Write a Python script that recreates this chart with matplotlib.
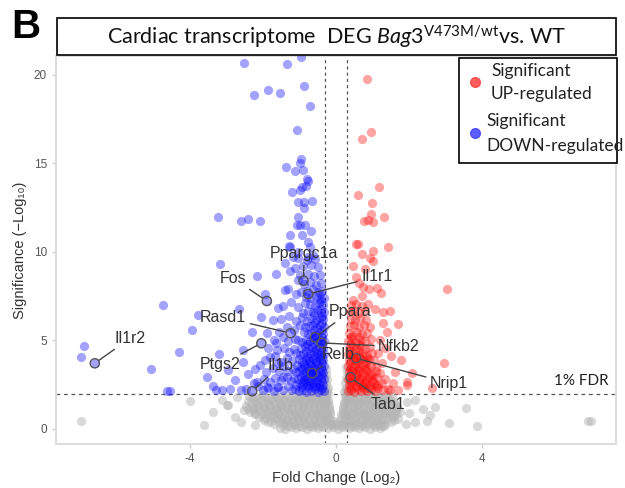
import matplotlib
matplotlib.use("Agg")
import matplotlib.pyplot as plt
from matplotlib.patches import Rectangle

plt.rcParams['font.family'] = ['Liberation Sans', 'DejaVu Sans']
plt.rcParams['mathtext.fontset'] = 'custom'
plt.rcParams['mathtext.rm'] = 'Lato'
plt.rcParams['mathtext.it'] = 'Lato:italic'

# log2 fold change / -log10 p for each gene group
down_pts = [
    # sparse, high significance
    (-2.52, 20.7), (-1.35, 20.6), (-0.96, 21.0), (-2.23, 18.85), (-1.85, 19.17), (-1.52, 19.0),
    (-0.87, 19.4), (-0.70, 18.27), (-1.07, 16.9), (-0.96, 15.25), (-1.37, 14.8), (-1.13, 14.6),
    (-0.89, 14.63), (-0.98, 15.0), (-0.80, 14.1), (-0.76, 14.0), (-0.94, 13.65), (-0.82, 13.7),
    (-1.19, 13.37), (-0.98, 13.5), (-1.05, 12.85), (-0.87, 12.8), (-0.66, 12.9), (-0.87, 12.5),
    (-3.23, 11.96), (-2.60, 11.77), (-2.40, 11.88), (-2.07, 11.77), (-1.05, 12.0), (-1.06, 11.5),
    (-0.97, 11.55), (-0.85, 11.5), (-1.27, 10.96), (-0.94, 10.96), (-0.67, 11.2), (-1.27, 10.3),
    (-0.71, 10.3), (-0.76, 10.58), (-1.05, 9.98), (-0.76, 9.73), (-0.62, 9.83), (-1.28, 10.36),
    # far left and mid-left
    (-6.88, 4.67), (-6.98, 4.05), (-6.59, 3.71), (-5.06, 3.37), (-4.74, 6.99), (-4.29, 4.33),
    (-3.94, 5.61), (-3.77, 6.42), (-4.63, 2.15), (-4.54, 2.15), (-3.53, 2.95), (-3.28, 2.2),
    (-3.20, 4.22), (-3.17, 9.32), (-2.64, 6.78), (-2.53, 4.46), (-2.53, 3.79), (-2.17, 8.66),
    (-1.64, 8.74), (-2.40, 3.09), (-2.16, 2.67), (-2.89, 2.24), (-3.12, 2.2), (-3.35, 2.43),
    (-2.08, 3.63), (-1.89, 5.41), (-1.73, 6.16), (-1.58, 6.85), (-1.39, 7.85), (-1.63, 4.84),
    (-1.80, 4.08), (-1.58, 3.71), (-1.44, 2.95), (-1.89, 2.39), (-1.62, 2.39), (-2.75, 2.75),
    (-2.95, 3.35), (-2.3, 5.5), (-2.05, 6.3), (-1.95, 7.6), (-1.89, 7.23), (-2.04, 4.84),
    (-2.29, 2.13), (-1.24, 5.41),
    # shoulder
    (-1.2, 2.18), (-1.32, 2.4), (-1.45, 2.2), (-1.58, 2.35), (-1.7, 2.15), (-1.85, 2.3),
    (-2.0, 2.2), (-2.12, 2.42), (-2.45, 2.25), (-2.6, 2.18), (-1.22, 2.7), (-1.35, 2.95),
    (-1.5, 2.75), (-1.66, 2.9), (-1.8, 2.65), (-1.98, 2.85), (-2.25, 2.6), (-1.18, 3.4),
    (-1.3, 3.25), (-1.42, 3.55), (-1.56, 3.3), (-1.72, 3.45), (-1.9, 3.2), (-2.2, 3.4),
    (-1.2, 3.85), (-1.35, 4.0), (-1.5, 3.8), (-1.68, 4.1), (-1.95, 3.9), (-1.15, 4.5),
    (-1.28, 4.35), (-1.42, 4.6), (-1.6, 4.45), (-1.85, 4.6), (-1.12, 5.1), (-1.3, 4.95),
    (-1.45, 5.2), (-1.7, 5.05), (-1.15, 5.6), (-1.35, 5.75), (-1.55, 5.5), (-1.1, 6.1),
    (-1.28, 6.4), (-1.5, 6.2), (-1.05, 6.9), (-1.22, 7.2), (-1.45, 6.95), (-1.1, 7.6),
    (-1.3, 7.9), (-1.05, 8.4), (-1.25, 8.9), (-1.18, 9.7), (-1.4, 9.4),
    # dense core
    (-0.34, 2.12), (-0.42, 2.2), (-0.5, 2.1), (-0.58, 2.25), (-0.67, 2.14), (-0.75, 2.3),
    (-0.83, 2.1), (-0.92, 2.22), (-1.01, 2.15), (-1.12, 2.28), (-0.36, 2.48), (-0.46, 2.55),
    (-0.55, 2.45), (-0.63, 2.6), (-0.72, 2.5), (-0.8, 2.58), (-0.9, 2.47), (-0.99, 2.62),
    (-1.08, 2.5), (-0.33, 2.82), (-0.41, 2.9), (-0.52, 2.78), (-0.6, 2.93), (-0.69, 2.8),
    (-0.78, 2.88), (-0.87, 2.76), (-0.96, 2.92), (-1.05, 2.84), (-1.15, 2.9), (-0.35, 3.18),
    (-0.44, 3.25), (-0.54, 3.12), (-0.62, 3.3), (-0.71, 3.15), (-0.81, 3.22), (-0.9, 3.1),
    (-1.0, 3.28), (-1.1, 3.2), (-0.33, 3.55), (-0.42, 3.48), (-0.5, 3.62), (-0.59, 3.5),
    (-0.68, 3.6), (-0.77, 3.45), (-0.86, 3.58), (-0.95, 3.52), (-1.06, 3.6), (-0.36, 3.88),
    (-0.45, 3.95), (-0.55, 3.82), (-0.64, 3.98), (-0.73, 3.86), (-0.83, 3.92), (-0.92, 3.8),
    (-1.02, 3.97), (-0.34, 4.22), (-0.43, 4.15), (-0.52, 4.3), (-0.6, 4.18), (-0.7, 4.28),
    (-0.79, 4.12), (-0.89, 4.25), (-0.99, 4.2), (-1.1, 4.3), (-0.35, 4.58), (-0.46, 4.65),
    (-0.55, 4.52), (-0.65, 4.62), (-0.74, 4.55), (-0.85, 4.68), (-0.95, 4.55), (-0.33, 4.98),
    (-0.42, 5.05), (-0.51, 4.92), (-0.62, 5.08), (-0.71, 4.95), (-0.81, 5.02), (-0.92, 4.9),
    (-1.04, 5.0), (-0.36, 5.38), (-0.47, 5.45), (-0.56, 5.32), (-0.67, 5.42), (-0.77, 5.35),
    (-0.88, 5.48), (-0.34, 5.78), (-0.43, 5.85), (-0.53, 5.72), (-0.63, 5.9), (-0.74, 5.8),
    (-0.86, 5.75), (-0.98, 5.88), (-0.35, 6.2), (-0.45, 6.28), (-0.56, 6.15), (-0.68, 6.25),
    (-0.8, 6.12), (-0.93, 6.3), (-0.33, 6.62), (-0.42, 6.55), (-0.52, 6.7), (-0.64, 6.58),
    (-0.76, 6.68), (-0.9, 6.55), (-0.36, 7.02), (-0.47, 7.1), (-0.58, 6.95), (-0.71, 7.05),
    (-0.85, 7.12), (-0.34, 7.42), (-0.44, 7.35), (-0.55, 7.48), (-0.68, 7.38), (-0.82, 7.45),
    (-0.38, 7.82), (-0.5, 7.75), (-0.63, 7.88), (-0.78, 7.8), (-0.95, 7.72), (-0.4, 8.25),
    (-0.55, 8.15), (-0.7, 8.3), (-0.88, 8.2), (-0.45, 8.7), (-0.6, 8.62), (-0.77, 8.75),
    (-0.98, 8.68), (-0.5, 9.15), (-0.68, 9.25), (-0.9, 9.2), (-1.12, 9.1), (-0.58, 9.6),
    (-0.8, 9.55), (-1.03, 9.68), (-0.89, 8.38), (-0.76, 7.62), (-0.57, 5.18), (-0.39, 4.86),
    (-0.65, 3.15),
    # extra fill in the core
    (-0.38, 2.32), (-0.47, 2.38), (-0.63, 2.36), (-0.79, 2.4), (-0.95, 2.35), (-0.39, 2.65),
    (-0.56, 2.68), (-0.74, 2.7), (-0.91, 2.66), (-0.37, 3.02), (-0.49, 3.0), (-0.66, 3.04),
    (-0.84, 2.98), (-0.38, 3.35), (-0.57, 3.38), (-0.74, 3.32), (-0.93, 3.4), (-0.39, 3.72),
    (-0.54, 3.7), (-0.71, 3.75), (-0.88, 3.68), (-0.38, 4.05), (-0.56, 4.05), (-0.76, 4.0),
    (-0.4, 4.4), (-0.59, 4.42), (-0.81, 4.38), (-0.39, 4.78), (-0.6, 4.8), (-0.8, 4.82),
    (-0.38, 5.2), (-0.58, 5.22), (-0.38, 5.58), (-0.6, 5.6), (-0.39, 6.0), (-0.58, 6.0),
    (-0.38, 6.4), (-0.6, 6.42), (-0.4, 6.8), (-0.42, 7.22), (-0.44, 7.6),
]

up_pts = [
    (0.84, 19.76), (0.96, 16.76), (0.70, 16.37), (1.18, 13.69), (0.59, 13.22), (0.97, 12.79),
    (0.95, 12.15), (1.32, 12.0), (0.77, 11.75), (0.88, 11.81), (1.02, 11.68), (0.55, 10.45),
    (0.61, 10.45), (1.43, 10.27), (1.02, 10.06), (0.70, 9.89), (0.93, 9.64), (1.0, 9.51),
    (0.46, 9.21), (0.79, 9.04), (0.55, 8.6), (0.62, 8.25), (0.75, 8.0), (0.9, 7.9),
    (1.12, 7.95), (1.22, 7.7), (3.02, 7.89), (0.70, 7.51), (0.47, 7.29),
    (1.07, 6.8), (1.29, 6.63), (1.48, 6.67), (1.70, 5.92), (1.29, 6.0), (1.40, 5.5),
    (1.2, 5.0), (1.35, 4.6), (1.15, 4.3), (1.5, 4.1), (1.77, 3.9), (2.96, 3.71),
    (2.07, 3.15), (1.93, 2.67), (1.93, 2.49), (2.61, 2.3), (1.6, 3.2), (1.55, 2.6),
    (1.48, 2.2), (1.7, 2.2), (1.25, 3.7), (0.55, 4.0), (0.40, 2.92),
    # dense core
    (0.34, 2.12), (0.42, 2.22), (0.5, 2.1), (0.59, 2.25), (0.68, 2.14), (0.77, 2.28),
    (0.86, 2.12), (0.96, 2.24), (1.06, 2.15), (1.16, 2.3), (1.28, 2.18), (1.42, 2.25),
    (0.36, 2.5), (0.45, 2.58), (0.55, 2.45), (0.64, 2.6), (0.73, 2.48), (0.83, 2.56),
    (0.93, 2.46), (1.03, 2.62), (1.14, 2.5), (1.26, 2.6), (0.33, 2.85), (0.43, 2.78),
    (0.52, 2.92), (0.62, 2.8), (0.71, 2.9), (0.81, 2.78), (0.91, 2.93), (1.01, 2.82),
    (1.12, 2.95), (1.35, 2.85), (0.35, 3.2), (0.45, 3.28), (0.54, 3.14), (0.64, 3.3),
    (0.74, 3.16), (0.85, 3.25), (0.96, 3.12), (1.08, 3.28), (1.2, 3.18), (0.34, 3.55),
    (0.43, 3.48), (0.53, 3.62), (0.63, 3.5), (0.73, 3.6), (0.84, 3.46), (0.95, 3.58),
    (1.1, 3.5), (0.36, 3.9), (0.46, 3.97), (0.56, 3.84), (0.67, 3.95), (0.78, 3.85),
    (0.9, 3.98), (1.04, 3.88), (0.33, 4.25), (0.42, 4.18), (0.52, 4.32), (0.62, 4.2),
    (0.73, 4.3), (0.85, 4.16), (0.98, 4.28), (0.35, 4.6), (0.45, 4.68), (0.56, 4.55),
    (0.67, 4.66), (0.8, 4.52), (0.94, 4.62), (0.34, 4.98), (0.44, 5.06), (0.55, 4.92),
    (0.67, 5.04), (0.8, 4.95), (0.95, 5.08), (0.36, 5.4), (0.47, 5.32), (0.58, 5.46),
    (0.7, 5.35), (0.84, 5.42), (0.38, 5.8), (0.5, 5.88), (0.62, 5.74), (0.76, 5.85),
    (0.92, 5.78), (0.4, 6.22), (0.53, 6.15), (0.66, 6.28), (0.82, 6.18), (0.37, 6.6),
    (0.5, 6.68), (0.64, 6.55), (0.8, 6.65), (0.42, 7.0), (0.56, 7.08), (0.72, 6.95),
    (0.88, 7.05),
    # extra fill in the core
    (0.38, 2.32), (0.54, 2.36), (0.72, 2.38), (0.9, 2.34), (1.1, 2.4), (0.39, 2.68),
    (0.58, 2.7), (0.78, 2.66), (0.97, 2.7), (0.38, 3.02), (0.57, 3.04), (0.77, 3.0),
    (0.99, 3.02), (0.39, 3.38), (0.59, 3.4), (0.8, 3.36), (0.38, 3.72), (0.6, 3.74),
    (0.83, 3.7), (0.4, 4.06), (0.62, 4.05), (0.84, 4.02), (0.39, 4.42), (0.62, 4.42),
    (0.4, 4.8), (0.62, 4.8), (0.4, 5.2), (0.64, 5.22),
]

ns_pts = [
    (-1.52, 0.08), (-1.38, 0.02), (-1.22, 0.12), (-1.08, 0.04), (-0.93, 0.1), (-0.79, 0.01),
    (-0.64, 0.09), (-0.5, 0.03), (-0.36, 0.13), (-0.21, 0.05), (-0.07, 0.11), (0.06, 0.02),
    (0.2, 0.1), (0.35, 0.04), (0.49, 0.12), (0.63, 0.03), (0.78, 0.09), (0.92, 0.02),
    (1.07, 0.11), (1.21, 0.05), (1.3, 0.14),
    (-1.45, 0.22), (-1.3, 0.17), (-1.15, 0.25), (-1.0, 0.19), (-0.86, 0.24), (-0.71, 0.16),
    (-0.57, 0.23), (-0.43, 0.18), (-0.28, 0.26), (-0.14, 0.2), (0.0, 0.24), (0.13, 0.17),
    (0.27, 0.25), (0.42, 0.19), (0.56, 0.23), (0.7, 0.16), (0.85, 0.26), (1.0, 0.2),
    (1.14, 0.24), (1.26, 0.18),
    (-1.85, 0.38), (-1.7, 0.3), (-1.55, 0.42), (-1.4, 0.33), (-1.26, 0.4), (-1.11, 0.28),
    (-0.97, 0.44), (-0.82, 0.35), (-0.68, 0.3), (-0.53, 0.41), (-0.39, 0.32), (-0.24, 0.43),
    (-0.1, 0.3), (0.04, 0.36), (0.17, 0.28), (0.31, 0.42), (0.46, 0.33), (0.6, 0.4),
    (0.75, 0.29), (0.89, 0.43), (1.04, 0.34), (1.18, 0.39), (1.33, 0.3), (1.5, 0.42),
    (-1.98, 0.52), (-1.78, 0.47), (-1.62, 0.55), (-1.47, 0.49), (-1.33, 0.53), (-1.18, 0.46),
    (-1.04, 0.54), (-0.89, 0.48), (-0.75, 0.52), (-0.6, 0.47), (-0.46, 0.55), (-0.31, 0.5),
    (-0.17, 0.53), (-0.05, 0.47), (0.1, 0.5), (0.24, 0.54), (0.38, 0.48), (0.53, 0.53),
    (0.67, 0.46), (0.82, 0.55), (0.96, 0.49), (1.11, 0.52), (1.25, 0.47), (1.4, 0.54),
    (1.58, 0.5),
    (-2.1, 0.68), (-1.95, 0.6), (-1.8, 0.72), (-1.64, 0.63), (-1.49, 0.7), (-1.34, 0.58),
    (-1.2, 0.74), (-1.05, 0.65), (-0.9, 0.6), (-0.75, 0.71), (-0.61, 0.62), (-0.46, 0.73),
    (-0.32, 0.6), (-0.18, 0.69), (0.16, 0.66), (0.27, 0.72), (0.39, 0.6), (0.54, 0.7),
    (0.68, 0.62), (0.83, 0.74), (0.97, 0.64), (1.12, 0.7), (1.26, 0.6), (1.41, 0.73),
    (1.56, 0.65), (1.7, 0.58),
    (-2.22, 0.83), (-2.02, 0.79), (-1.87, 0.86), (-1.72, 0.8), (-1.56, 0.85), (-1.41, 0.78),
    (-1.27, 0.84), (-1.12, 0.8), (-0.97, 0.86), (-0.82, 0.79), (-0.68, 0.85), (-0.53, 0.81),
    (-0.39, 0.86), (-0.25, 0.8), (-0.16, 0.85), (0.15, 0.82), (0.22, 0.87), (0.34, 0.8),
    (0.48, 0.85), (0.62, 0.79), (0.76, 0.86), (0.9, 0.81), (1.05, 0.84), (1.19, 0.78),
    (1.34, 0.86), (1.49, 0.81), (1.65, 0.84),
    (-2.35, 0.98), (-2.2, 0.9), (-2.04, 1.02), (-1.88, 0.93), (-1.73, 1.0), (-1.58, 0.88),
    (-1.43, 1.04), (-1.28, 0.95), (-1.13, 0.9), (-0.98, 1.01), (-0.83, 0.92), (-0.68, 1.03),
    (-0.53, 0.9), (-0.39, 0.99), (-0.26, 0.92), (-0.17, 1.02), (0.18, 0.95), (0.28, 1.03),
    (0.41, 0.9), (0.55, 1.0), (0.7, 0.92), (0.85, 1.04), (0.99, 0.94), (1.14, 1.0),
    (1.29, 0.9), (1.44, 1.02), (1.6, 0.93), (1.76, 0.98),
    (-2.4, 1.13), (-2.27, 1.08), (-2.12, 1.15), (-1.96, 1.1), (-1.8, 1.14), (-1.65, 1.07),
    (-1.5, 1.16), (-1.35, 1.1), (-1.2, 1.13), (-1.05, 1.08), (-0.9, 1.16), (-0.76, 1.1),
    (-0.61, 1.14), (-0.47, 1.07), (-0.33, 1.15), (-0.2, 1.1), (0.2, 1.12), (0.34, 1.07),
    (0.48, 1.15), (0.63, 1.09), (0.77, 1.14), (0.92, 1.08), (1.07, 1.16), (1.22, 1.1),
    (1.37, 1.13), (1.52, 1.08), (1.68, 1.14),
    (-2.45, 1.28), (-2.28, 1.2), (-2.12, 1.32), (-1.96, 1.23), (-1.8, 1.3), (-1.65, 1.18),
    (-1.5, 1.34), (-1.35, 1.25), (-1.2, 1.2), (-1.05, 1.31), (-0.9, 1.22), (-0.75, 1.33),
    (-0.6, 1.2), (-0.46, 1.29), (-0.33, 1.22), (-0.2, 1.32), (0.2, 1.25), (0.32, 1.33),
    (0.46, 1.2), (0.6, 1.3), (0.75, 1.22), (0.9, 1.34), (1.05, 1.24), (1.2, 1.3),
    (1.35, 1.2), (1.5, 1.32), (1.66, 1.23),
    (-2.32, 1.43), (-2.15, 1.39), (-1.98, 1.46), (-1.82, 1.41), (-1.66, 1.45), (-1.5, 1.38),
    (-1.35, 1.44), (-1.2, 1.4), (-1.05, 1.46), (-0.9, 1.39), (-0.75, 1.44), (-0.6, 1.41),
    (-0.46, 1.45), (-0.33, 1.38), (-0.23, 1.44), (0.23, 1.4), (0.35, 1.46), (0.48, 1.39),
    (0.62, 1.44), (0.76, 1.4), (0.91, 1.45), (1.06, 1.38), (1.21, 1.44), (1.36, 1.41),
    (1.5, 1.46), (1.62, 1.4),
    (-2.4, 1.58), (-2.22, 1.5), (-2.05, 1.62), (-1.88, 1.53), (-1.72, 1.6), (-1.57, 1.48),
    (-1.42, 1.64), (-1.27, 1.55), (-1.12, 1.5), (-0.97, 1.61), (-0.82, 1.52), (-0.67, 1.63),
    (-0.53, 1.5), (-0.4, 1.59), (-0.28, 1.52), (-0.21, 1.62), (0.22, 1.55), (0.3, 1.63),
    (0.42, 1.5), (0.55, 1.6), (0.69, 1.52), (0.84, 1.64), (0.99, 1.54), (1.14, 1.6),
    (1.29, 1.5), (1.44, 1.62), (1.58, 1.55),
    (-2.3, 1.73), (-2.12, 1.7), (-1.95, 1.76), (-1.78, 1.71), (-1.6, 1.75), (-1.44, 1.69),
    (-1.28, 1.74), (-1.13, 1.7), (-0.98, 1.76), (-0.83, 1.69), (-0.68, 1.74), (-0.55, 1.7),
    (-0.42, 1.75), (-0.3, 1.69), (0.27, 1.72), (0.36, 1.76), (0.47, 1.7), (0.6, 1.74),
    (0.73, 1.69), (0.87, 1.75), (1.01, 1.7), (1.15, 1.74), (1.3, 1.69), (1.45, 1.75),
    (-2.38, 1.88), (-2.2, 1.8), (-2.02, 1.92), (-1.85, 1.83), (-1.68, 1.9), (-1.52, 1.78),
    (-1.36, 1.94), (-1.2, 1.85), (-1.05, 1.8), (-0.9, 1.91), (-0.75, 1.82), (-0.61, 1.93),
    (-0.48, 1.8), (-0.36, 1.89), (-0.27, 1.82), (-0.22, 1.95), (0.24, 1.86), (0.3, 1.94),
    (0.4, 1.8), (0.52, 1.9), (0.65, 1.82), (0.79, 1.94), (0.93, 1.84), (1.08, 1.9),
    (1.22, 1.8), (1.37, 1.92), (1.52, 1.85),
    (-0.28, 2.1), (-0.21, 2.3), (-0.27, 2.55), (-0.24, 2.18), (-0.25, 2.8), (-0.28, 3.1),
    (-0.26, 3.4), (0.22, 2.1), (0.28, 2.3), (0.25, 2.6), (0.26, 2.2), (0.27, 2.9),
    (0.29, 3.2), (0.27, 3.5),
    # scattered
    (-3.99, 1.6), (-3.61, 0.23), (-3.35, 0.98), (-3.12, 1.64), (-2.99, 1.36), (-2.50, 1.07),
    (-6.97, 0.47), (-2.94, 1.36), (-2.75, 0.7), (-2.7, 1.8), (3.55, 1.17), (3.10, 0.32),
    (3.84, 0.17), (6.88, 0.47), (6.96, 0.47), (2.37, 1.11), (2.57, 0.79), (2.48, 0.47),
    (2.16, 0.41), (2.16, 1.64), (2.70, 1.26), (2.0, 0.9), (1.95, 1.5), (1.9, 0.3),
    (-2.6, 0.4), (-2.2, 0.2),
]

# labelled genes: name, point, label position
gene_names = ['Il1r2', 'Fos', 'Ppargc1a', 'Rasd1', 'Ptgs2', 'Il1b',
              'Il1r1', 'Ppara', 'Nfkb2', 'Relb', 'Nrip1', 'Tab1']
gene_pts = [(-6.59, 3.71), (-1.89, 7.23), (-0.89, 8.38), (-1.24, 5.41), (-2.04, 4.84), (-2.29, 2.13),
            (-0.76, 7.62), (-0.57, 5.18), (-0.39, 4.86), (-0.65, 3.15), (0.55, 4.0), (0.40, 2.92)]
label_pos = [(-5.63, 5.12), (-2.81, 8.51), (-0.87, 9.89), (-3.08, 6.31), (-3.17, 3.62), (-1.53, 3.56),
             (1.11, 8.6), (0.38, 6.63), (1.72, 4.65), (0.06, 4.18), (3.09, 2.58), (1.43, 1.36)]

fc_cut = 0.3
fdr_cut = 2.0

fig = plt.figure(figsize=(6.25, 4.88), dpi=100)
ax = fig.add_axes([56 / 625, 1 - 444 / 488, 560 / 625, 388 / 488])

ns_x, ns_y = zip(*ns_pts)
down_x, down_y = zip(*down_pts)
up_x, up_y = zip(*up_pts)
ax.scatter(ns_x, ns_y, s=44, color='#b4b4b4', alpha=0.5, linewidths=0, zorder=2)
ax.scatter(down_x, down_y, s=44, color='#0000ff', alpha=0.36, linewidths=0, zorder=3)
ax.scatter(up_x, up_y, s=44, color='#ff0000', alpha=0.36, linewidths=0, zorder=3)

ax.axvline(-fc_cut, color='#555555', lw=0.9, ls=(0, (2.5, 2.5)), zorder=1)
ax.axvline(fc_cut, color='#555555', lw=0.9, ls=(0, (2.5, 2.5)), zorder=1)
ax.axhline(fdr_cut, color='#555555', lw=0.9, ls=(0, (3, 3)), zorder=1)

gx, gy = zip(*gene_pts)
ax.scatter(gx, gy, s=44, facecolors='none', edgecolors='#555555', linewidths=1.0, zorder=5)
for name, pt, pos in zip(gene_names, gene_pts, label_pos):
    ax.annotate(name, xy=pt, xytext=pos, ha='center', va='center', fontsize=11.5,
                color='#333333', zorder=6,
                arrowprops=dict(arrowstyle='-', color='#444444', lw=1.0,
                                shrinkA=1, shrinkB=3.5))

ax.text(7.45, 2.7, '1% FDR', ha='right', va='center', fontsize=11,
        family=['Lato', 'DejaVu Sans'], color='#222222')

ax.set_xlim(-7.65, 7.65)
ax.set_ylim(-0.85, 21.07)
ax.set_xticks([-4, 0, 4])
ax.set_xticklabels(['-4', '0', '4'])
ax.set_yticks([0, 5, 10, 15, 20])
ax.tick_params(colors='#cccccc', labelcolor='#555555', labelsize=8.5, length=3, width=1)
for sp in ax.spines.values():
    sp.set_color('#dddddd')
    sp.set_linewidth(1.5)
ax.set_xlabel('Fold Change (Log\u2082)', fontsize=10.5, color='#333333', labelpad=4)
ax.set_ylabel('Significance (\u2212Log\u2081\u2080)', fontsize=10.5, color='#333333', labelpad=5)

# title box
fig.patches.append(Rectangle((57 / 625, 1 - 55 / 488), 559 / 625, 37 / 488,
                             transform=fig.transFigure, fill=True, fc='white',
                             ec='black', lw=1.2, zorder=10))
fig.text(336 / 625, 1 - 37 / 488,
         r'Cardiac transcriptome  DEG $\mathit{Bag3}^{\mathrm{V473M/wt}}$vs. WT',
         ha='center', va='center', fontsize=15.5, family=['Lato', 'DejaVu Sans'],
         color='#111111', zorder=11)
fig.text(11 / 625, 1 - 27 / 488, 'B', ha='left', va='center', fontsize=29,
         fontweight='bold', color='black')

# legend box
fig.patches.append(Rectangle((459 / 625, 1 - 163 / 488), 158 / 625, 105 / 488,
                             transform=fig.transFigure, fill=True, fc='white',
                             ec='black', lw=1.2, zorder=10))
fig.lines.append(plt.Line2D([475 / 625], [1 - 82 / 488], marker='o', ms=7, color='#ff4040',
                            alpha=0.85, transform=fig.transFigure, zorder=11))
fig.lines.append(plt.Line2D([475 / 625], [1 - 133 / 488], marker='o', ms=7, color='#4040ff',
                            alpha=0.85, transform=fig.transFigure, zorder=11))
leg_font = dict(fontsize=12.5, family=['Lato', 'DejaVu Sans'], color='#222222', zorder=11,
                va='center', ha='left')
fig.text(491 / 625, 1 - 71 / 488, 'Significant', **leg_font)
fig.text(491 / 625, 1 - 94 / 488, 'UP-regulated', **leg_font)
fig.text(486 / 625, 1 - 121 / 488, 'Significant', **leg_font)
fig.text(486 / 625, 1 - 146 / 488, 'DOWN-regulated', **leg_font)

fig.savefig('out.png', dpi=100)
